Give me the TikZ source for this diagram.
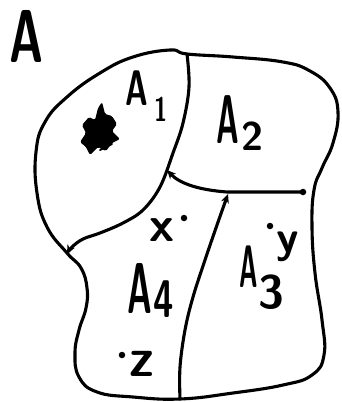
\documentclass[tikz,border=0pt]{standalone}
\usepackage{graphicx}
\usetikzlibrary{arrows.meta}
\tikzset{
  edge/.style={line width=3.1pt, line cap=round, line join=round},
  arrowedge/.style={edge, -{Stealth[length=9pt,width=8pt]}},
  lbl/.style={inner sep=0pt, anchor=base west, font=\sffamily\bfseries},
  pt/.style={circle, fill=black, inner sep=0pt, minimum size=6.5pt},
}
\newcommand{\hw}[3]{{\fontsize{#1}{#1}\selectfont\scalebox{#2}[1]{#3}}}
\begin{document}
\begin{tikzpicture}[x=1pt,y=-1pt]
\useasboundingbox (0,0) rectangle (341,402);
% outer boundary
\draw[edge] plot[smooth cycle, tension=0.75] coordinates {
 (170,50) (133,57) (100,73) (67,97) (45,122) (36,152) (37,193) (47,227)
 (67,253) (81,268) (87,288) (86,308) (79,330) (75,353) (79,377) (97,392)
 (133,397) (180,399) (233,393) (283,385) (312,375) (324,355) (322,320)
 (315,273) (312,227) (314,190) (322,168) (333,143) (338,112) (330,88)
 (310,71) (283,62) (233,57) (187,54)};
% named points
\coordinate (top) at (187,54);
\coordinate (bot) at (180,399);
\coordinate (leftend) at (67,254);
\node[pt] (rdot) at (303,192) {};
\coordinate (tip1) at (167,170);
\coordinate (tip3) at (228,194);
% A1 divider with arrow
\draw[arrowedge] plot[smooth, tension=0.6] coordinates {
 (top) (189,87) (183,123) (173,153) (160,187) (143,210) (123,223) (100,233) (83,239) (72,247) (leftend)};
% horizontal arrow
\draw[arrowedge] (rdot.center) -- (227,192) .. controls (200,190) and (180,184) .. (tip1);
% A3/A4 divider
\draw[arrowedge] plot[smooth, tension=0.6] coordinates {
 (bot) (180,367) (185,330) (193,297) (205,260) (217,225) (tip3)};
% blob
\fill[rounded corners=1.5pt] (102,102) -- (105,114) -- (112,116) -- (117,124) -- (112,131) -- (120,139)
 -- (112,143) -- (106,151) -- (98,147) -- (90,155) -- (86,147) -- (80,142) -- (86,133) -- (82,125)
 -- (89,117) -- (95,120) -- (98,108) -- cycle;
\draw[edge, line width=2pt] (100,150) -- (112,144);
% labels
\node[lbl] (labA) at (9,62) {\hw{75}{0.62}{A}};
\node[lbl] (labA1) at (125,105) {\hw{50}{0.62}{A}};
\node[lbl] (sub1) at (154,121) {\hw{34}{0.7}{1}};
\node[lbl] (labA2) at (216,143) {\hw{69}{0.45}{A}};
\node[lbl] (sub2) at (241,150) {\hw{40}{1}{2}};
\node[lbl] (labA3) at (239,287) {\hw{60}{0.42}{A}};
\node[lbl] (sub3) at (258,308) {\hw{47}{1}{3}};
\node[lbl] (labA4) at (127,313) {\hw{72}{0.47}{A}};
\node[lbl] (sub4) at (153,317) {\hw{53}{0.7}{4}};
\node[lbl] (labx) at (149,241) {\hw{50}{1}{x}};
\node[pt] (dx) at (184,218) {};
\node[lbl] (labz) at (129,376) {\hw{55}{0.95}{z}};
\node[pt] (dz) at (122,355) {};
\node[lbl] (laby) at (276,252) {\hw{45}{1}{y}};
\node[pt] (dy) at (270,226) {};
\end{tikzpicture}
\end{document}
